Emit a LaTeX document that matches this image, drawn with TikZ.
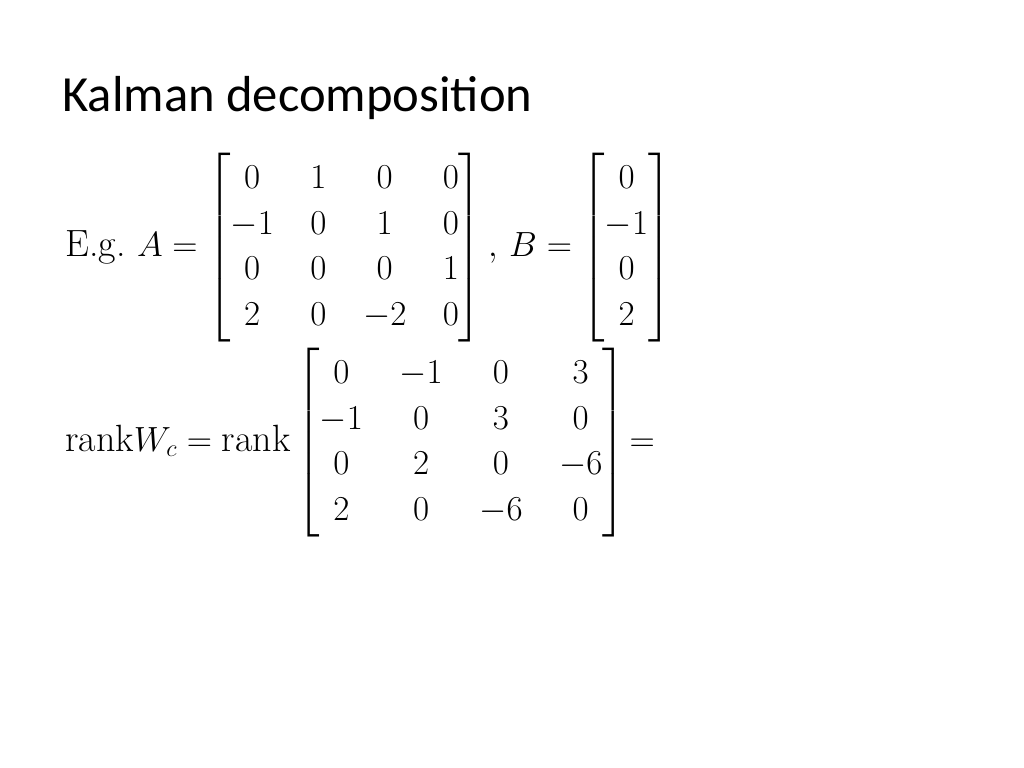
\documentclass[tikz,border=0pt]{standalone}
\usepackage{amsmath}
\usepackage{fontspec}
\newfontfamily\titlefont{Carlito}
\begin{document}
\begin{tikzpicture}[x=0.025cm,y=-0.025cm,
  mathline/.style={anchor=west,inner sep=0pt,font=\fontsize{27}{32.4}\selectfont}]
\useasboundingbox[fill=white] (0,0) rectangle (1024,768);
\node[anchor=base west,inner sep=0pt,font=\titlefont\fontsize{36}{40}\selectfont] (title) at (62,112) {Kalman decomposition};
\node[mathline] (eg) at (65,248) {\setlength{\arraycolsep}{13pt}E.g.\ $A=\begin{bmatrix}0&1&0&0\\-1&0&1&0\\0&0&0&1\\2&0&-2&0\end{bmatrix},\,B=\begin{bmatrix}0\\-1\\0\\2\end{bmatrix}$};
\node[mathline] (rank) at (65,443) {\setlength{\arraycolsep}{13pt}$\mathrm{rank}W_c=\mathrm{rank}\begin{bmatrix}0&-1&0&3\\-1&0&3&0\\0&2&0&-6\\2&0&-6&0\end{bmatrix}\!=$};
\end{tikzpicture}
\end{document}
